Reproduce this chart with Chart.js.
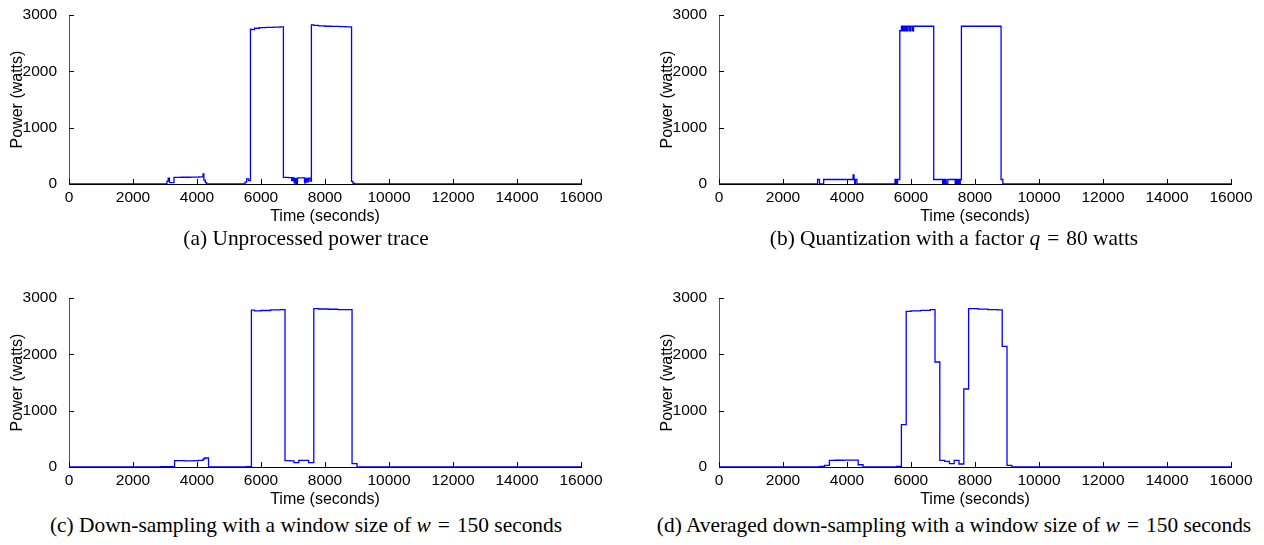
<!DOCTYPE html>
<html>
<head>
<meta charset="utf-8">
<title>Power trace processing</title>
<script src="https://cdn.jsdelivr.net/npm/chart.js@4.4.1/dist/chart.umd.min.js"></script>
<style>
    html, body { margin: 0; padding: 0; background: #fff; }
    body { width: 1264px; height: 545px; position: relative; overflow: hidden; }
    .panel { position: absolute; width: 614px; height: 226px; }
    .panel canvas { display: block; }
    .caption {
        position: absolute;
        width: 640px;
        text-align: center;
        font-family: "Liberation Serif", "Times New Roman", serif;
        font-size: 21.4px;
        line-height: 26px;
        color: #000;
        white-space: nowrap;
    }
    .caption .eq { margin: 0 0.08em; }
</style>
</head>
<body>
<div class="panel" style="left:0;top:0"><canvas id="chart-a" width="614" height="226"></canvas></div>
<div class="panel" style="left:650px;top:0"><canvas id="chart-b" width="614" height="226"></canvas></div>
<div class="panel" style="left:0;top:283px"><canvas id="chart-c" width="614" height="226"></canvas></div>
<div class="panel" style="left:650px;top:283px"><canvas id="chart-d" width="614" height="226"></canvas></div>

<div class="caption" style="left:-14px;top:225px">(a) Unprocessed power trace</div>
<div class="caption" style="left:634px;top:225px">(b) Quantization with a factor <i>q</i> <span class="eq">=</span> 80 watts</div>
<div class="caption" style="left:-14px;top:512px">(c) Down-sampling with a window size of <i>w</i> <span class="eq">=</span> 150 seconds</div>
<div class="caption" style="left:634px;top:512px">(d) Averaged down-sampling with a window size of <i>w</i> <span class="eq">=</span> 150 seconds</div>

<script>
// axis setup
const timeTicks = [0, 2000, 4000, 6000, 8000, 10000, 12000, 14000, 16000];
const powerTicks = [0, 1000, 2000, 3000];

// (a) unprocessed trace: each value holds until the next time
const rawTime = [0, 3060, 3100, 3140, 3280, 3500, 3800, 4050, 4190, 4215, 4260, 4300,
    5500, 5550, 5610, 5670, 5720, 5800, 5950, 6150, 6400, 6600,
    6700, 6850, 6960, 7000, 7040, 7080, 7110, 7140, 7360, 7400, 7440, 7480, 7530,
    7575, 7650, 7800, 8000, 8200, 8450, 8650, 8830, 8870, 8920, 16000];
const rawPower = [0, 50, 105, 25, 118, 120, 122, 128, 178, 70, 25, 0,
    35, 90, 60, 2750, 2740, 2765, 2775, 2780, 2785, 2790,
    118, 112, 60, 110, 15, 95, 10, 110, 20, 100, 40, 105, 50,
    2825, 2815, 2808, 2800, 2798, 2792, 2790, 45, 15, 0, 0];

// (b) quantized with q = 80 W
const quantTime = [0, 3080, 3140, 3270, 4190, 4220, 4240, 4260, 4310,
    5500, 5540, 5580, 5650, 5700, 5730, 5770, 5800, 5840, 5880, 5910, 5960, 5990, 6040, 6080,
    6710, 6990, 7010, 7040, 7060, 7100, 7150, 7380, 7410, 7440, 7470, 7510, 7540,
    7575, 8815, 8870, 16000];
const quantPower = [0, 80, 0, 80, 160, 80, 0, 80, 0,
    80, 0, 80, 2720, 2800, 2720, 2800, 2720, 2800, 2720, 2800, 2720, 2800, 2720, 2800,
    80, 0, 80, 0, 80, 0, 80, 0, 80, 0, 80, 0, 80,
    2800, 80, 0, 0];

// (c) down-sampled, w = 150 s
const downTime = [0, 2850, 3300, 3600, 3900, 4050, 4190, 4240, 4360,
    5550, 5700, 5800, 6000, 6300, 6600, 6750, 6900, 7030, 7180, 7490,
    7650, 7800, 8100, 8400, 8700, 8845, 9000, 16000];
const downPower = [0, 5, 112, 110, 114, 118, 142, 160, 0,
    8, 2785, 2772, 2778, 2790, 2795, 112, 110, 77, 118, 77,
    2812, 2805, 2800, 2792, 2795, 59, 0, 0];

// (d) averaged down-sampling, w = 150 s
const avgTime = [0, 3150, 3300, 3450, 3600, 3900, 4200, 4350, 4500,
    5550, 5700, 5850, 6000, 6300, 6600, 6750, 6900, 7050, 7200, 7350, 7500,
    7650, 7800, 8100, 8400, 8700, 8850, 9000, 9150, 16000];
const avgPower = [0, 12, 30, 118, 120, 122, 121, 40, 0,
    12, 751, 2763, 2770, 2781, 2793, 1864, 118, 100, 59, 118, 53,
    1385, 2810, 2802, 2795, 2788, 2142, 30, 0, 0];

const axisFont = { family: '"Liberation Sans", Arial, Helvetica, sans-serif', size: 15.5 };
const titleFont = { family: '"Liberation Sans", Arial, Helvetica, sans-serif', size: 16 };

// MATLAB-style tick marks pointing into the axes
const inwardTicks = {
    id: 'inwardTicks',
    beforeDatasetsDraw(chart) {
        const { ctx, chartArea, scales } = chart;
        ctx.save();
        ctx.strokeStyle = '#000';
        ctx.lineWidth = 1;
        ctx.beginPath();
        scales.x.ticks.forEach((tick) => {
            const px = Math.round(scales.x.getPixelForValue(tick.value)) + 0.5;
            ctx.moveTo(px, chartArea.bottom);
            ctx.lineTo(px, chartArea.bottom - 5);
        });
        scales.y.ticks.forEach((tick) => {
            const py = Math.round(scales.y.getPixelForValue(tick.value)) + 0.5;
            ctx.moveTo(chartArea.left, py);
            ctx.lineTo(chartArea.left + 5, py);
        });
        ctx.stroke();
        ctx.restore();
    },
};

function toPoints(times, values) {
    return times.map((t, i) => ({ x: t, y: values[i] }));
}

function drawTrace(id, times, values) {
    const canvas = document.getElementById(id);
    if (!canvas) return;

    new Chart(canvas.getContext('2d'), {
        type: 'line',
        data: {
            datasets: [{
                data: toPoints(times, values),
                borderColor: '#0000ff',
                borderWidth: 1.3,
                pointRadius: 0,
                stepped: true,
                fill: false,
            }],
        },
        options: {
            responsive: false,
            animation: false,
            events: [],
            layout: { padding: { top: 15, right: 33, left: 0, bottom: 0 } },
            plugins: {
                legend: { display: false },
                tooltip: { enabled: false },
            },
            scales: {
                x: {
                    type: 'linear',
                    min: timeTicks[0],
                    max: timeTicks[timeTicks.length - 1],
                    afterBuildTicks: (scale) => { scale.ticks = timeTicks.map((v) => ({ value: v })); },
                    ticks: {
                        font: axisFont,
                        color: '#000',
                        padding: -4,
                        maxRotation: 0,
                        autoSkip: false,
                        callback: (value) => String(value),
                    },
                    grid: { display: false },
                    border: { display: true, color: '#000', width: 1 },
                    title: { display: true, text: 'Time (seconds)', font: titleFont, color: '#000', padding: 0 },
                    afterFit: (scale) => { scale.height = 42; },
                },
                y: {
                    type: 'linear',
                    min: powerTicks[0],
                    max: powerTicks[powerTicks.length - 1],
                    afterBuildTicks: (scale) => { scale.ticks = powerTicks.map((v) => ({ value: v })); },
                    ticks: {
                        font: axisFont,
                        color: '#000',
                        padding: 4,
                        callback: (value) => String(value),
                    },
                    grid: { display: false },
                    border: { display: true, color: '#555', width: 1 },
                    title: { display: true, text: 'Power (watts)', font: titleFont, color: '#000', padding: { top: 8, bottom: 0 } },
                    afterFit: (scale) => { scale.width = 69; },
                },
            },
        },
        plugins: [inwardTicks],
    });
}

document.addEventListener('DOMContentLoaded', () => {
    drawTrace('chart-a', rawTime, rawPower);
    drawTrace('chart-b', quantTime, quantPower);
    drawTrace('chart-c', downTime, downPower);
    drawTrace('chart-d', avgTime, avgPower);
});
</script>
</body>
</html>
